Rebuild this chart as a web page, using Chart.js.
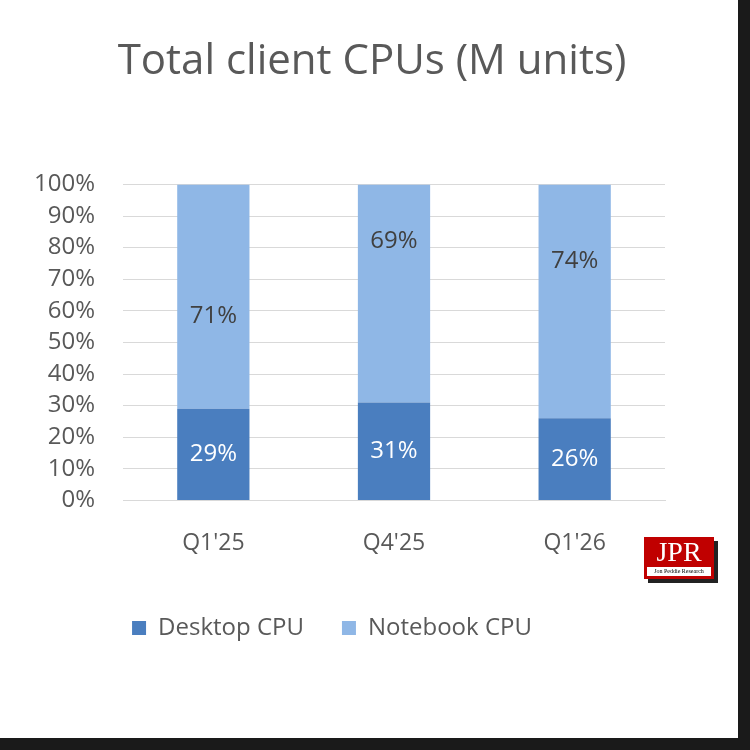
<!DOCTYPE html>
<html>
<head>
<meta charset="utf-8">
<script src="https://cdn.jsdelivr.net/npm/chart.js@4"></script>
<style>
  body { margin: 0; background: #1a1a1a; width: 750px; height: 750px; }
  #panel { position: absolute; left: 0; top: 0; width: 738px; height: 738px; background: #fff; }
  #logo { position: absolute; left: 644px; top: 537px; width: 70px; height: 42px; background: #c00000;
    color: #fff; font-family: "Liberation Serif", serif; text-align: center; box-shadow: 4px 4px 0 #222; }
  #logo .big { font-size: 28px; line-height: 30px; }
  #logo .small { font-size: 6px; background: #fff; color: #000; margin: 0 3px; line-height: 9px; }
</style>
</head>
<body>
<div id="panel"><canvas id="chart" width="738" height="738"></canvas></div>
<div id="logo"><div class="big">JPR</div><div class="small">Jon Peddie Research</div></div>
<script>
const categories = ["Q1'25", "Q4'25", "Q1'26"];
const desktop = [29, 31, 26];
const notebook = [71, 69, 74];
const yTicks = [0, 10, 20, 30, 40, 50, 60, 70, 80, 90, 100];

const grey = "#595959";
// label shift from segment middle for the notebook labels (as placed in the original)
const notebookLabelShift = [20, -52, -40];

const barLabels = {
  id: "barLabels",
  afterDatasetsDraw(chart) {
    const ctx = chart.ctx;
    ctx.save();
    ctx.font = "24px 'Open Sans', sans-serif";
    ctx.textAlign = "center";
    ctx.textBaseline = "middle";
    chart.data.datasets.forEach((ds, i) => {
      const meta = chart.getDatasetMeta(i);
      ctx.fillStyle = i === 0 ? "#ffffff" : "#404040";
      meta.data.forEach((bar, j) => {
        let y = (bar.y + bar.base) / 2;
        if (i === 1) y += notebookLabelShift[j];
        ctx.fillText(ds.data[j] + "%", bar.x, y);
      });
    });
    ctx.restore();
  }
};

// the legend in the original sits a bit left of centre
const legendShift = {
  id: "legendShift",
  afterLayout(chart) {
    chart.legend.left -= 40;
    chart.legend.right -= 40;
  }
};

new Chart(document.getElementById("chart"), {
  type: "bar",
  data: {
    labels: categories,
    datasets: [
      { label: "Desktop CPU", data: desktop, backgroundColor: "#4a7ebf", barPercentage: 0.4, categoryPercentage: 1 },
      { label: "Notebook CPU", data: notebook, backgroundColor: "#8fb7e6", barPercentage: 0.4, categoryPercentage: 1 }
    ]
  },
  options: {
    responsive: false,
    animation: false,
    layout: { padding: { left: 6, right: 0, top: 0, bottom: 88 } },
    plugins: {
      title: {
        display: true,
        text: "Total client CPUs (M units)",
        color: grey,
        font: { family: "'Open Sans', sans-serif", size: 42, weight: "normal" },
        padding: { top: 37, bottom: 97 }
      },
      legend: {
        position: "bottom",
        labels: {
          color: grey,
          font: { family: "'Open Sans', sans-serif", size: 24 },
          boxWidth: 14, boxHeight: 14, padding: 38
        }
      },
      tooltip: { enabled: false }
    },
    scales: {
      x: {
        stacked: true,
        grid: { display: false },
        border: { color: "#d9d9d9" },
        ticks: { color: grey, font: { family: "'Open Sans', sans-serif", size: 23 }, padding: 21 }
      },
      y: {
        stacked: true,
        min: 0, max: 100,
        afterBuildTicks: (axis) => { axis.ticks = yTicks.map(v => ({ value: v })); },
        grid: { color: "#d9d9d9", drawTicks: false },
        border: { display: false },
        ticks: { color: grey, font: { family: "'Open Sans', sans-serif", size: 24 }, padding: 28,
          autoSkip: false, callback: (v) => v + "%" }
      },
      spacer: {
        position: "right",
        grid: { display: false },
        border: { display: false },
        ticks: { display: false },
        afterFit: (axis) => { axis.width = 73; }
      }
    }
  },
  plugins: [barLabels, legendShift]
});
</script>
</body>
</html>
